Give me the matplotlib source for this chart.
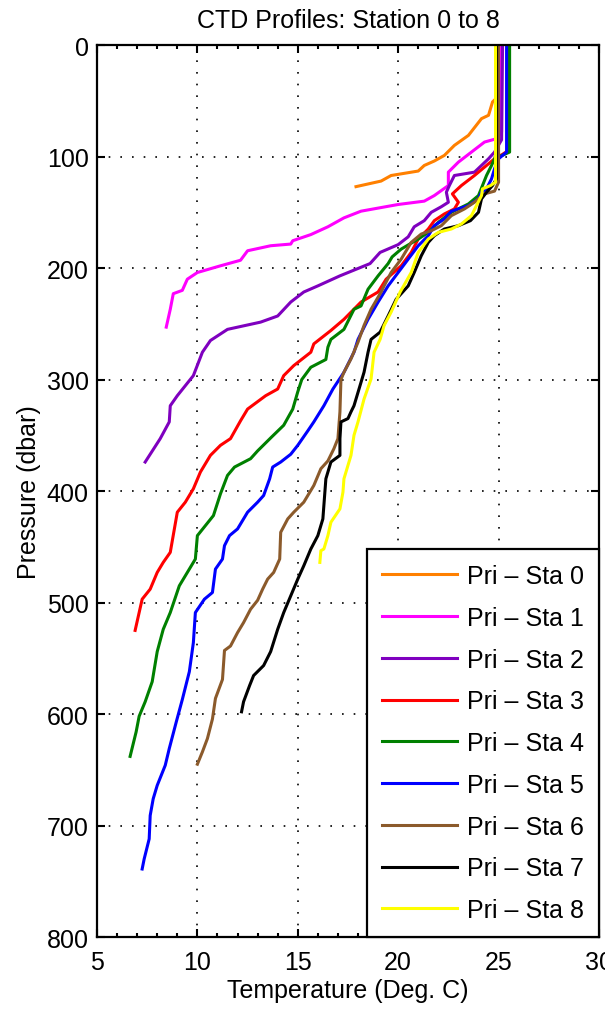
"""CTD profiles, temperature against pressure, stations 0 to 8"""
import numpy as np
import matplotlib.pyplot as plt
from matplotlib.ticker import MultipleLocator

plt.rcParams['font.family'] = ['Liberation Sans', 'DejaVu Sans']

"""Station profiles (read off the plot)"""
p0 = [0, 45, 51, 63, 66, 81, 90, 99, 104, 108, 113, 117, 122, 127]
t0 = [25.1, 25.05, 24.7, 24.5, 24.15, 23.5, 22.8, 22.3, 21.8, 21.3, 21.0, 19.65, 19.15, 17.9]

p1 = [0, 78, 84, 87, 96, 105, 114, 126, 135, 140, 143, 149, 155, 163, 170, 175.5, 178.5, 180,
      184.5, 193, 198, 204, 210, 220, 223, 237, 253]
t1 = [25.15, 25.15, 24.9, 24.3, 23.65, 23.0, 22.5, 22.5, 21.8, 21.3, 20.0, 18.15, 17.3, 16.5,
      15.65, 14.75, 14.65, 13.65, 12.5, 12.15, 11.15, 10.0, 9.5, 9.25, 8.8, 8.65, 8.45]

p2 = [0, 85, 96, 102, 114, 117, 126, 132, 141, 145, 150, 157.5, 163, 172, 179, 186, 196, 207,
      216, 221.5, 230.5, 243, 248.5, 255, 265, 275.5, 296.5, 314.5, 323.5, 338, 353, 367, 374]
t2 = [25.2, 25.15, 24.8, 24.5, 23.8, 22.8, 22.55, 22.4, 22.5, 22.15, 21.65, 21.3, 20.8, 20.5,
      20.0, 19.1, 18.6, 17.1, 16.0, 15.3, 14.65, 14.0, 13.15, 11.5, 10.65, 10.25, 9.8, 9.0,
      8.65, 8.6, 8.15, 7.65, 7.4]

p3 = [0, 95, 98, 102, 117, 126, 133.5, 141, 147, 151.5, 157.5, 165, 174, 186, 198, 210, 221.5,
      230.5, 246, 256, 268, 275.5, 287.5, 296.5, 308.5, 314.5, 326.5, 337, 353, 359, 368, 383,
      398, 410, 419, 455, 464, 473, 488, 497, 509, 525]
t3 = [25.45, 25.45, 25.2, 24.8, 23.8, 23.15, 22.7, 23.0, 22.8, 22.3, 21.8, 21.5, 21.0, 20.65,
      20.15, 19.4, 19.0, 18.15, 17.3, 16.65, 15.8, 15.65, 14.8, 14.3, 14.0, 13.4, 12.5, 12.15,
      11.65, 11.15, 10.65, 10.15, 9.8, 9.4, 9.0, 8.65, 8.3, 8.0, 7.65, 7.25, 7.1, 6.9]

p4 = [0, 96, 98, 102, 108, 117, 135, 142.5, 150, 159, 168, 174, 183, 190, 196, 207, 219, 234,
      237, 255, 264, 271, 282, 289, 300, 311, 326.5, 341, 351.5, 364, 371, 378.5, 386, 402.5,
      422, 440, 461, 473, 485, 509, 524, 544, 571, 589, 602, 616, 638]
t4 = [25.55, 25.55, 25.3, 24.8, 24.65, 24.4, 24.0, 23.5, 22.65, 22.0, 21.5, 21.0, 20.15, 19.7,
      19.5, 19.0, 18.5, 18.15, 17.8, 17.3, 16.65, 16.5, 16.4, 15.65, 15.2, 15.0, 14.75, 14.3,
      13.7, 13.0, 12.65, 11.85, 11.5, 11.15, 10.8, 10.0, 9.9, 9.5, 9.1, 8.65, 8.3, 8.0, 7.75,
      7.4, 7.1, 6.95, 6.65]

p5 = [0, 96, 102, 111, 120, 129, 132, 138, 144, 149, 156, 162, 171, 180, 192, 204, 216, 230.5,
      246, 264, 275.5, 293.5, 308.5, 323.5, 338, 346, 359, 367, 374, 378.5, 389, 404, 410, 419,
      434, 440, 449, 461, 470, 491, 497, 509, 536, 562, 587, 607, 631, 646, 664, 676, 691, 712,
      730, 739]
t5 = [25.4, 25.4, 25.0, 24.8, 24.65, 24.4, 24.15, 24.0, 23.5, 22.65, 22.3, 21.8, 21.5, 21.0,
      20.5, 20.0, 19.5, 19.0, 18.5, 18.0, 17.8, 17.3, 16.75, 16.3, 15.8, 15.5, 15.0, 14.65,
      14.15, 13.75, 13.6, 13.3, 13.0, 12.5, 12.0, 11.6, 11.35, 11.25, 10.9, 10.75, 10.35, 9.9,
      9.8, 9.6, 9.25, 8.95, 8.6, 8.4, 8.0, 7.8, 7.65, 7.6, 7.35, 7.25]

p6 = [0, 120, 123, 131, 133.5, 141, 147, 153, 162, 166.5, 169.5, 177, 192, 204, 216, 221.5, 237,
      251.5, 266.5, 281.5, 293.5, 300, 329, 353, 362, 373, 380, 395, 410, 419, 425, 437, 461,
      473, 479, 488, 498, 506, 518, 527, 539, 543, 569, 586, 604.5, 622, 634, 645]
t6 = [25.0, 25.0, 25.0, 24.8, 24.3, 23.8, 23.3, 22.65, 22.15, 21.65, 21.15, 20.65, 20.15, 19.65,
      19.3, 19.15, 18.65, 18.3, 18.0, 17.65, 17.3, 17.15, 17.1, 17.0, 16.8, 16.5, 16.15, 15.8,
      15.3, 14.8, 14.5, 14.15, 14.1, 13.8, 13.5, 13.25, 13.0, 12.65, 12.3, 12.0, 11.65, 11.35,
      11.25, 10.9, 10.75, 10.5, 10.25, 10.0]

p7 = [0, 120, 126, 132, 138, 150, 157.5, 162, 165, 171, 177, 189, 204, 216, 228, 243, 257.5,
      264, 275.5, 293.5, 305.5, 323.5, 329, 335, 338, 353, 368, 374, 389, 425, 440, 452, 467,
      479, 494, 509, 524, 544, 556.5, 565.5, 574.5, 589, 598]
t7 = [24.9, 24.9, 24.7, 24.4, 24.15, 24.0, 23.6, 23.0, 22.3, 21.8, 21.5, 21.15, 20.8, 20.5,
      19.9, 19.5, 19.1, 18.65, 18.5, 18.3, 18.1, 17.8, 17.65, 17.5, 17.15, 17.1, 17.1, 16.65,
      16.4, 16.25, 16.0, 15.65, 15.3, 15.0, 14.65, 14.3, 14.0, 13.65, 13.3, 12.8, 12.6, 12.3,
      12.2]

p8 = [0, 123, 126, 129, 135, 144, 153, 160.5, 165, 168, 174, 186, 204, 221.5, 239.5, 251.5,
      264, 275.5, 299.5, 317.5, 338, 350, 368, 389, 401, 416, 428, 440, 452, 453.5, 464]
t8 = [24.85, 24.85, 24.6, 24.2, 24.15, 23.9, 23.65, 23.15, 22.65, 22.0, 21.5, 21.0, 20.65, 20.1,
      19.65, 19.3, 19.1, 18.8, 18.65, 18.3, 18.0, 17.8, 17.65, 17.3, 17.25, 17.1, 16.65, 16.5,
      16.3, 16.15, 16.1]

temps = [t0, t1, t2, t3, t4, t5, t6, t7, t8]
press = [p0, p1, p2, p3, p4, p5, p6, p7, p8]
labels = ["Pri \u2013 Sta %d" % i for i in range(9)]
colors = ["#ff8000", "#ff00ff", "#7f00bf", "#ff0000", "#008000", "#0000ff",
          "#8b5a2b", "#000000", "#ffff00"]

"""Plotting"""
fs = 18
fig = plt.figure(figsize=(6.05, 10.12), dpi=100)
ax = fig.add_axes([0.1603, 0.0731, 0.8297, 0.8814])

for t, p, c, lab in zip(temps, press, colors, labels):
    ax.plot(t, p, color=c, lw=2.2, label=lab)

ax.set_xlim(5, 30)
ax.set_ylim(800, 0)
ax.xaxis.set_major_locator(MultipleLocator(5))
ax.xaxis.set_minor_locator(MultipleLocator(1))
ax.yaxis.set_major_locator(MultipleLocator(100))
ax.tick_params(which='both', direction='in', top=True, right=True, labelsize=fs, width=1.5)
ax.tick_params(which='major', length=6)
ax.tick_params(which='minor', length=3)
ax.tick_params(axis='x', pad=9)
ax.tick_params(axis='y', pad=6)
for s in ax.spines.values():
    s.set_linewidth(1.6)
ax.grid(True, color='k', linestyle=(0, (1, 6)), lw=1.2)

ax.set_xlabel("Temperature (Deg. C)", fontsize=fs, labelpad=3)
ax.set_ylabel("Pressure (dbar)", fontsize=fs, labelpad=4)
ax.set_title("CTD Profiles: Station 0 to 8", fontsize=fs, pad=13)

leg = ax.legend(loc='lower right', fontsize=fs, fancybox=False, framealpha=1,
                borderaxespad=0, handlelength=3.0, handletextpad=0.4,
                labelspacing=0.71, borderpad=0.6)
leg.get_frame().set_edgecolor('k')
leg.get_frame().set_linewidth(1.6)

fig.savefig("out.png", dpi=100)
